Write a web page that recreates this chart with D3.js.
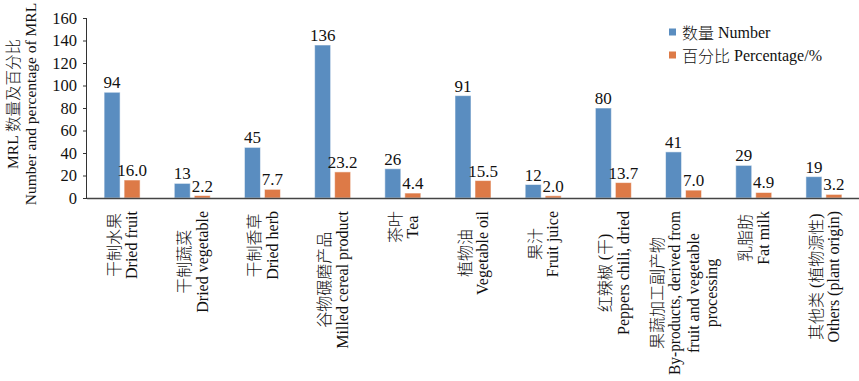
<!DOCTYPE html>
<html><head><meta charset="utf-8">
<script src="https://cdn.jsdelivr.net/npm/d3@7"></script>
<style>
body{margin:0;background:#fff;}
text{font-family:"Liberation Serif","Noto Sans CJK SC",serif;fill:#111;}
tspan.cjk{font-family:"Noto Sans CJK SC",sans-serif;font-weight:300;}
</style></head>
<body><svg id="c" width="859" height="381"></svg>
<script>
const categories = [
  ["干制水果","Dried fruit"],
  ["干制蔬菜","Dried vegetable"],
  ["干制香草","Dried herb"],
  ["谷物碾磨产品","Milled cereal product"],
  ["茶叶","Tea"],
  ["植物油","Vegetable oil"],
  ["果汁","Fruit juice"],
  ["红辣椒 (干)","Peppers chili, dried"],
  ["果蔬加工副产物","By-products, derived from","fruit and vegetable","processing"],
  ["乳脂肪","Fat milk"],
  ["其他类 (植物源性)","Others (plant origin)"]
];
const numberValues = [94,13,45,136,26,91,12,80,41,29,19];
const percentValues = [16.0,2.2,7.7,23.2,4.4,15.5,2.0,13.7,7.0,4.9,3.2];
const yTicks = [0,20,40,60,80,100,120,140,160];
const seriesNames = ["数量 Number","百分比 Percentage/%"];
const yTitle = ["MRL 数量及百分比","Number and percentage of MRL"];
const colors = ["#5a8dc0","#dd7a47"];

function mixed(sel, str){
  const runs = str.match(/[\u3000-\u9fff\uff00-\uffef]+|[^\u3000-\u9fff\uff00-\uffef]+/g) || [];
  runs.forEach(r=>{
    const isC = /[\u3000-\u9fff\uff00-\uffef]/.test(r);
    sel.append("tspan").attr("class", isC ? "cjk" : null).text(r);
  });
  return sel;
}

const svg = d3.select("#c");
const x = d3.scaleBand().domain(d3.range(categories.length)).range([87,859]);
const y = d3.scaleLinear().domain([0,160]).range([198,18]);
const bw = 16, off = 10;

// y axis
const ya = svg.append("g").attr("transform","translate(87,0)")
  .call(d3.axisLeft(y).tickValues(yTicks).tickSize(4).tickPadding(6));
ya.select(".domain").attr("stroke","#333").attr("d","M-0.5,"+y(160)+"V"+y(0));
ya.selectAll(".tick line").attr("stroke","#333");
ya.selectAll(".tick text").attr("font-size",16.5).attr("fill","#111")
  .style("font-family","'Liberation Serif',serif");

// bars
const series = [numberValues, percentValues];
series.forEach((vals,si)=>{
  const g = svg.append("g");
  g.selectAll("rect").data(vals).join("rect")
    .attr("x",(d,i)=>x(i)+x.bandwidth()/2 + (si===0?-off:off) - bw/2)
    .attr("y",d=>y(d))
    .attr("width",bw)
    .attr("height",d=>y(0)-y(d))
    .attr("fill",colors[si])
    .attr("stroke","rgba(255,255,255,0.55)").attr("stroke-width",1);
  g.selectAll("text").data(vals).join("text")
    .attr("x",(d,i)=>x(i)+x.bandwidth()/2 + (si===0?-off:off))
    .attr("y",d=>y(d)-4)
    .attr("text-anchor","middle").attr("font-size",17)
    .text(d=> si===0 ? d3.format("d")(d) : d3.format(".1f")(d));
});

// x axis line
svg.append("line").attr("x1",87).attr("x2",859).attr("y1",y(0)+0.5).attr("y2",y(0)+0.5)
  .attr("stroke","#444").attr("stroke-width",1.3);

// x labels
const lh = 18.5, topY = 211, maxLen = 164;
categories.forEach((lines,i)=>{
  const cx = x(i)+x.bandwidth()/2;
  const g = svg.append("g");
  const ts = lines.map((t,j)=>{
    const el = g.append("text").attr("font-size",16).attr("text-anchor","middle")
      .attr("dominant-baseline","central");
    mixed(el, t);
    const w = el.node().getComputedTextLength();
    if (w > maxLen) el.attr("textLength",maxLen).attr("lengthAdjust","spacingAndGlyphs");
    return el;
  });
  const maxW = d3.min([maxLen, d3.max(ts, t=>t.node().getComputedTextLength())]);
  const yc = topY + maxW/2;
  ts.forEach((t,j)=>{
    const lx = cx + (j - (lines.length-1)/2)*lh;
    t.attr("transform",`translate(${lx},${yc}) rotate(-90)`);
  });
});

// y title
yTitle.forEach((t,k)=>{
  const el = svg.append("text").attr("font-size",15.5).attr("text-anchor","middle")
    .attr("dominant-baseline","central")
    .attr("transform",`translate(${12+k*18},104) rotate(-90)`);
  mixed(el, t);
});

// legend
seriesNames.forEach((n,i)=>{
  const ly = 32 + i*23;
  svg.append("rect").attr("x",669).attr("y",ly-3.5).attr("width",7).attr("height",7).attr("fill",colors[i]);
  const el = svg.append("text").attr("x",682).attr("y",ly).attr("dominant-baseline","central")
    .attr("font-size",16);
  mixed(el, n);
});
</script></body></html>
